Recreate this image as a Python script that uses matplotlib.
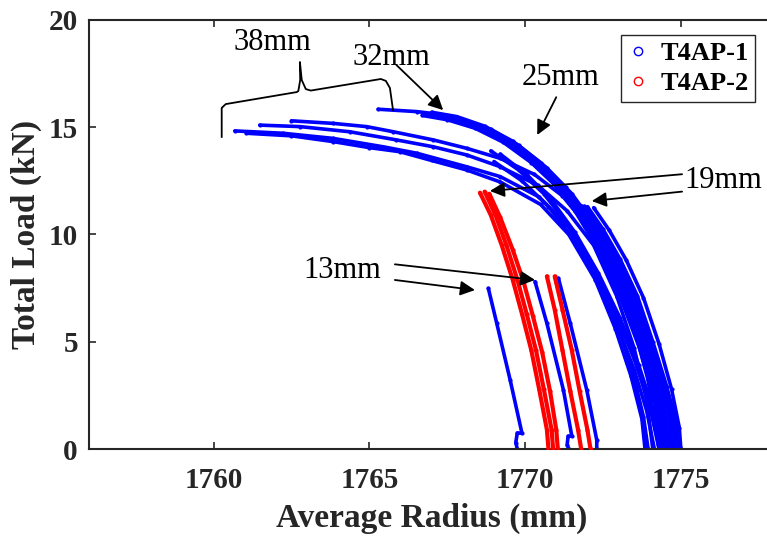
import matplotlib
matplotlib.use("Agg")
import matplotlib.pyplot as plt
from matplotlib.lines import Line2D

# ---- T4AP-1 load / radius traces (blue) ----
t1_38_e_x = [1761.05, 1762.5, 1763.84, 1765.0, 1765.98, 1767.0, 1768.12, 1769.2, 1770.5, 1771.4, 1772.25, 1772.9, 1773.4, 1773.75, 1773.85]
t1_38_e_y = [14.72, 14.6, 14.33, 14.05, 13.86, 13.45, 13.01, 12.45, 11.4, 10.0, 7.9, 5.6, 3.4, 1.4, 0.0]
t1_38_d_x = [1760.68, 1762.23, 1763.84, 1765.44, 1766.52, 1768.12, 1769.2, 1770.45, 1771.4, 1772.3, 1772.95, 1773.45, 1773.8, 1773.95]
t1_38_d_y = [14.83, 14.72, 14.48, 14.09, 13.79, 13.16, 12.7, 11.75, 10.35, 8.2, 5.9, 3.6, 1.5, 0.0]
t1_38_c_x = [1761.48, 1762.77, 1764.37, 1765.87, 1767.05, 1768.12, 1769.2, 1770.4, 1771.35, 1772.2, 1772.95, 1773.5, 1773.9, 1774.1]
t1_38_c_y = [15.1, 15.03, 14.79, 14.41, 14.09, 13.71, 13.16, 12.3, 11.1, 9.5, 7.1, 4.7, 2.3, 0.0]
t1_38_b_x = [1762.5, 1763.84, 1764.91, 1765.77, 1767.05, 1768.12, 1769.2, 1770.3, 1771.2, 1772.05, 1772.8, 1773.45, 1773.95, 1774.3]
t1_38_b_y = [15.3, 15.18, 15.03, 14.79, 14.41, 14.02, 13.55, 12.8, 11.8, 10.3, 8.3, 5.9, 3.2, 0.0]
t1_38_a_x = [1765.28, 1766.52, 1767.27, 1768.2, 1769.1, 1770.0, 1770.85, 1771.6, 1772.35, 1773.05, 1773.7, 1774.15, 1774.45]
t1_38_a_y = [15.84, 15.73, 15.6, 15.2, 14.55, 13.65, 12.5, 11.1, 9.3, 7.1, 4.6, 2.3, 0.0]

t1_32_a_x = [1766.7, 1767.5, 1768.4, 1769.3, 1770.2, 1771.0, 1771.75, 1772.5, 1773.2, 1773.85, 1774.3, 1774.6]
t1_32_a_y = [15.55, 15.35, 14.95, 14.3, 13.35, 12.25, 10.9, 9.1, 6.9, 4.5, 2.3, 0.0]
t1_32_b_x = [1767.0, 1767.8, 1768.7, 1769.6, 1770.5, 1771.3, 1772.0, 1772.7, 1773.4, 1774.05, 1774.5, 1774.8]
t1_32_b_y = [15.7, 15.5, 15.05, 14.35, 13.35, 12.2, 10.85, 9.1, 6.9, 4.5, 2.3, 0.0]
t1_32_c_x = [1767.2, 1768.0, 1768.9, 1769.8, 1770.7, 1771.5, 1772.2, 1772.9, 1773.6, 1774.25, 1774.7, 1775.0]
t1_32_c_y = [15.6, 15.35, 14.9, 14.15, 13.1, 11.9, 10.5, 8.7, 6.5, 4.2, 2.1, 0.0]
t1_32_d_x = [1766.85, 1767.65, 1768.55, 1769.45, 1770.35, 1771.15, 1771.9, 1772.6, 1773.3, 1773.95, 1774.4, 1774.7]
t1_32_d_y = [15.62, 15.42, 15.0, 14.32, 13.35, 12.22, 10.88, 9.1, 6.9, 4.5, 2.3, 0.0]

t1_25_a_x = [1769.3, 1770.1, 1770.9, 1771.65, 1772.35, 1773.05, 1773.7, 1774.2, 1774.5]
t1_25_a_y = [14.35, 13.55, 12.45, 11.1, 9.4, 7.2, 4.7, 2.3, 0.0]
t1_25_b_x = [1769.7, 1770.5, 1771.25, 1771.95, 1772.65, 1773.3, 1773.95, 1774.4, 1774.7]
t1_25_b_y = [14.1, 13.2, 12.0, 10.6, 8.8, 6.7, 4.3, 2.1, 0.0]
t1_25_c_x = [1769.5, 1770.3, 1771.1, 1771.8, 1772.5, 1773.2, 1773.85, 1774.3, 1774.6]
t1_25_c_y = [14.2, 13.35, 12.2, 10.85, 9.1, 6.95, 4.5, 2.2, 0.0]
t1_25_d_x = [1768.9, 1769.8, 1770.6, 1771.4, 1772.15, 1772.85, 1773.5, 1774.0, 1774.3]
t1_25_d_y = [13.9, 13.0, 11.9, 10.4, 8.6, 6.5, 4.2, 2.0, 0.0]
t1_25_e_x = [1769.2, 1770.05, 1770.85, 1771.6, 1772.35, 1773.05, 1773.65, 1774.1, 1774.4]
t1_25_e_y = [13.75, 12.8, 11.6, 10.1, 8.2, 6.1, 3.9, 1.9, 0.0]
t1_25_f_x = [1769.0, 1769.9, 1770.75, 1771.55, 1772.3, 1772.95, 1773.5, 1773.9, 1774.15]
t1_25_f_y = [13.4, 12.5, 11.3, 9.8, 7.9, 5.8, 3.7, 1.8, 0.0]

t1_19_a_x = [1771.8, 1772.3, 1772.85, 1773.4, 1773.95, 1774.4, 1774.75, 1774.85]
t1_19_a_y = [11.35, 10.3, 8.9, 7.2, 5.1, 3.0, 1.0, 0.0]
t1_19_b_x = [1772.0, 1772.5, 1773.05, 1773.6, 1774.1, 1774.55, 1774.85, 1774.95]
t1_19_b_y = [11.3, 10.25, 8.85, 7.15, 5.0, 2.9, 1.0, 0.0]
t1_19_c_x = [1772.2, 1772.7, 1773.25, 1773.8, 1774.3, 1774.7, 1774.95, 1775.0]
t1_19_c_y = [11.25, 10.2, 8.8, 7.05, 4.9, 2.8, 1.0, 0.0]
t1_19_d_x = [1771.9, 1772.4, 1772.95, 1773.5, 1774.05, 1774.5, 1774.8, 1774.9]
t1_19_d_y = [11.32, 10.28, 8.88, 7.18, 5.05, 2.95, 1.0, 0.0]

t1_13_a_x = [1768.82, 1769.09, 1769.52, 1769.9, 1769.75, 1769.7, 1769.75]
t1_13_a_y = [7.49, 5.86, 3.22, 0.73, 0.75, 0.3, 0.0]
t1_13_b_x = [1770.32, 1770.7, 1771.23, 1771.5, 1771.38, 1771.35, 1771.4]
t1_13_b_y = [7.8, 5.86, 2.75, 0.6, 0.6, 0.2, 0.0]
t1_13_c_x = [1771.07, 1771.45, 1771.98, 1772.3, 1772.3]
t1_13_c_y = [7.96, 5.86, 2.75, 0.42, 0.0]

# ---- T4AP-2 load / radius traces (red) ----
t2_a_x = [1768.55, 1768.9, 1769.25, 1769.6, 1769.9, 1770.2, 1770.45, 1770.7, 1770.75]
t2_a_y = [11.95, 10.9, 9.5, 7.9, 6.3, 4.6, 2.8, 0.9, 0.0]
t2_b_x = [1768.7, 1769.05, 1769.4, 1769.75, 1770.05, 1770.35, 1770.6, 1770.85, 1770.9]
t2_b_y = [12.0, 10.9, 9.5, 7.9, 6.3, 4.6, 2.8, 0.9, 0.0]
t2_c_x = [1768.85, 1769.2, 1769.6, 1769.95, 1770.25, 1770.55, 1770.8, 1771.0, 1771.05]
t2_c_y = [11.9, 10.8, 9.3, 7.8, 6.2, 4.5, 2.7, 0.9, 0.0]
t2_d_x = [1770.7, 1770.95, 1771.2, 1771.45, 1771.7, 1771.8]
t2_d_y = [8.05, 6.5, 4.6, 2.7, 0.9, 0.0]
t2_e_x = [1770.95, 1771.2, 1771.5, 1771.75, 1772.0, 1772.1]
t2_e_y = [8.05, 6.5, 4.6, 2.7, 0.9, 0.0]

t1_traces = [
    (t1_38_e_x, t1_38_e_y), (t1_38_d_x, t1_38_d_y), (t1_38_c_x, t1_38_c_y),
    (t1_38_b_x, t1_38_b_y), (t1_38_a_x, t1_38_a_y),
    (t1_32_a_x, t1_32_a_y), (t1_32_b_x, t1_32_b_y), (t1_32_c_x, t1_32_c_y),
    (t1_32_d_x, t1_32_d_y),
    (t1_25_a_x, t1_25_a_y), (t1_25_b_x, t1_25_b_y), (t1_25_c_x, t1_25_c_y),
    (t1_25_d_x, t1_25_d_y), (t1_25_e_x, t1_25_e_y), (t1_25_f_x, t1_25_f_y),
    (t1_19_a_x, t1_19_a_y), (t1_19_b_x, t1_19_b_y), (t1_19_c_x, t1_19_c_y),
    (t1_19_d_x, t1_19_d_y),
    (t1_13_a_x, t1_13_a_y), (t1_13_b_x, t1_13_b_y), (t1_13_c_x, t1_13_c_y),
]
t2_traces = [
    (t2_a_x, t2_a_y), (t2_b_x, t2_b_y), (t2_c_x, t2_c_y),
    (t2_d_x, t2_d_y), (t2_e_x, t2_e_y),
]

series_names = ["T4AP-1", "T4AP-2"]
x_ticks = [1760, 1765, 1770, 1775]
y_ticks = [0, 5, 10, 15, 20]

# brace grouping the 38mm traces
brace_x = [1760.26, 1760.26, 1760.39, 1762.67, 1762.72, 1762.78, 1762.77,
           1762.83, 1762.96, 1763.12, 1765.37, 1765.53, 1765.66, 1765.76]
brace_y = [14.55, 15.9, 16.08, 16.64, 16.69, 17.2, 18.04,
           17.2, 16.78, 16.71, 17.25, 17.16, 16.83, 15.8]

# (label, text position, [(arrow tail, arrow tip), ...])
callouts = [
    ("38mm", (1761.9, 18.93), []),
    ("32mm", (1765.72, 18.27), [((1765.87, 17.9), (1767.37, 15.8))]),
    ("25mm", (1771.13, 17.3), [((1771.0, 16.4), (1770.39, 14.64))]),
    ("19mm", (1776.37, 12.54), [((1775.04, 12.81), (1768.87, 12.03)),
                                ((1775.04, 12.0), (1772.14, 11.56))]),
    ("13mm", (1764.13, 8.3), [((1765.82, 8.61), (1770.32, 7.88)),
                              ((1765.82, 7.88), (1768.39, 7.41))]),
]

SERIF = "Liberation Serif"
INK = "#262626"
BLUE = "#0000FF"
RED = "#FF0000"

fig = plt.figure(figsize=(7.67, 5.37), dpi=100)
W, H = 767.0, 537.0
ax = fig.add_axes([89 / W, 1 - 449 / H, (774.3 - 89) / W, (449 - 20) / H])

for xs, ys in t1_traces:
    ax.plot(xs, ys, color=BLUE, lw=2.6, marker="o", ms=2.0,
            solid_capstyle="round", solid_joinstyle="round", zorder=2)
for xs, ys in t2_traces:
    ax.plot(xs, ys, color=RED, lw=3.0, marker="o", ms=2.0,
            solid_capstyle="round", solid_joinstyle="round", zorder=3)

ax.plot(brace_x, brace_y, color="black", lw=1.3, zorder=4, clip_on=False)

for label, (tx, ty), arrows in callouts:
    ax.text(tx, ty, label, fontsize=22, family=SERIF, ha="center", va="center",
            color="black", zorder=5, clip_on=False)
    for tail, tip in arrows:
        ax.annotate("", xy=tip, xytext=tail,
                    arrowprops=dict(arrowstyle="-|>", color="black", lw=1.3,
                                    mutation_scale=22, shrinkA=0, shrinkB=0),
                    zorder=5)

ax.set_xlim(1756, 1778)
ax.set_ylim(0, 20)
ax.set_xticks(x_ticks)
ax.set_yticks(y_ticks)
ax.tick_params(direction="in", length=5, width=1.2, top=True, right=True,
               colors=INK, labelsize=21)
ax.tick_params(axis="x", pad=13)
ax.tick_params(axis="y", pad=8)
for lab in ax.get_xticklabels() + ax.get_yticklabels():
    lab.set_family(SERIF)
    lab.set_fontweight("bold")
for sp in ax.spines.values():
    sp.set_color(INK)
    sp.set_linewidth(1.5)

ax.set_xlabel("Average Radius (mm)", fontsize=24, family=SERIF, fontweight="bold",
              color=INK, labelpad=6)
ax.set_ylabel("Total Load (kN)", fontsize=24, family=SERIF, fontweight="bold",
              color=INK, labelpad=5)

handles = [Line2D([], [], ls="none", marker="o", mfc="none", mec=c, ms=6, mew=1.0)
           for c in (BLUE, RED)]
leg = ax.legend(handles, series_names, loc="upper left",
                bbox_to_anchor=(621 / W, 1 - 35 / H), bbox_transform=fig.transFigure,
                prop=dict(family=SERIF, weight="bold", size=19),
                frameon=True, fancybox=False, framealpha=1, edgecolor=INK,
                borderaxespad=0, borderpad=0.25, handlelength=0.8, handletextpad=0.45,
                labelspacing=0.25)
leg.get_frame().set_linewidth(1.0)

fig.savefig("out.png", dpi=100)
